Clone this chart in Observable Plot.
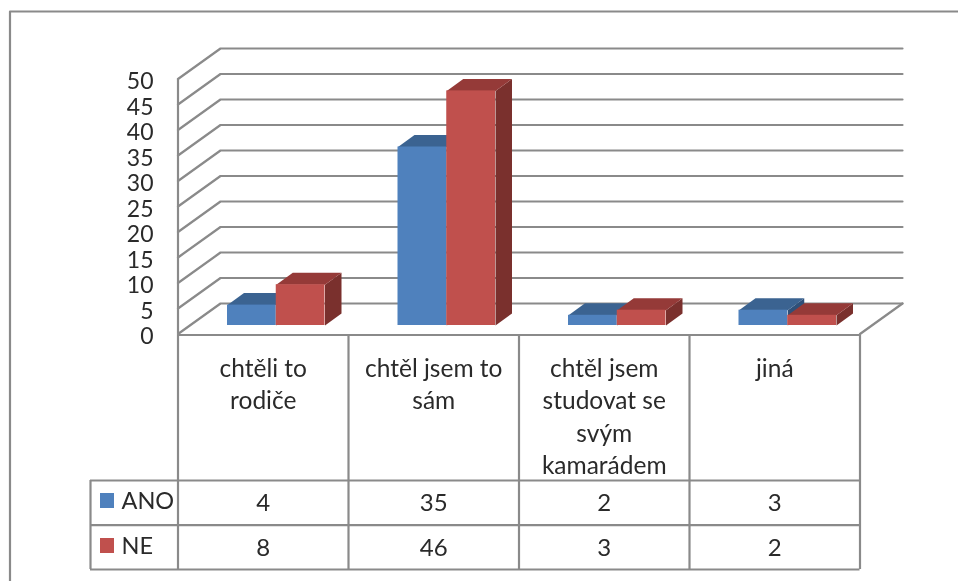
<!DOCTYPE html>
<html><head><meta charset="utf-8">
<script src="https://cdn.jsdelivr.net/npm/d3@7"></script>
<script src="https://cdn.jsdelivr.net/npm/@observablehq/plot@0.6"></script>
<style>html,body{margin:0;padding:0;background:#fff}svg{display:block;filter:blur(.5px)}</style>
</head><body><script>
const categories = ["chtěli to\nrodiče","chtěl jsem to\nsám","chtěl jsem\nstudovat se\nsvým\nkamarádem","jiná"];
const seriesNames = ["ANO","NE"];
const ano = [4,35,2,3];
const ne = [8,46,3,2];
const yTicks = [0,5,10,15,20,25,30,35,40,45,50];
const colors = {ANO:{front:"#4f81bd",top:"#3b6391",side:"#2f5079"},NE:{front:"#c0504d",top:"#953a38",side:"#7a302d"}};
const line = "#8a8a8a";

const W=958,H=581,L=177.5,R=859.5,T=78.5,B=333.5;
const xu=(R-L)/4, yu=(B-T)/50;
// chart-space offsets: horizontal pixels -> category units, vertical pixels -> value units
const X=p=>(p-L)/xu, Y=p=>(B-p)/yu, DX=p=>p/xu, DY=p=>p/yu;

const wallX=DX(42.5), wallY=DY(30.5);
const grid=yTicks.flatMap(v=>[[0,v],[wallX,v+wallY],[4+wallX,v+wallY]].map(([x,y])=>({x,y,z:v})));
const floorEdge=[{x:4,y:0},{x:4+wallX,y:wallY}];

const barW=DX(48.75), barStart=DX(49.5), floor=DY(8.5), dX=DX(16.5), dY=DY(12);
const bars=[];
[ano,ne].forEach((vals,s)=>vals.forEach((v,i)=>{
  bars.push({s:seriesNames[s],i,v,x1:i+barStart+s*barW,x2:i+barStart+(s+1)*barW,y1:floor,y2:floor+v});
}));
const face=(kind)=>bars.flatMap((b,n)=>(kind==="top"
  ?[[b.x1,b.y2],[b.x2,b.y2],[b.x2+dX,b.y2+dY],[b.x1+dX,b.y2+dY]]
  :[[b.x2,b.y1],[b.x2,b.y2],[b.x2+dX,b.y2+dY],[b.x2+dX,b.y1+dY]]
).map(([x,y])=>({x,y,z:n,s:b.s})));

const barMarks=seriesNames.flatMap(s=>{
  const f=d=>d.s===s, c=colors[s];
  return [
    Plot.line(face("side").filter(f),{x:"x",y:"y",z:"z",fill:c.side,stroke:"none",curve:"linear"}),
    Plot.line(face("top").filter(f),{x:"x",y:"y",z:"z",fill:c.top,stroke:"none",curve:"linear"}),
    Plot.rect(bars.filter(f),{x1:"x1",x2:"x2",y1:"y1",y2:"y2",fill:c.front})
  ];
});

const tableLeft=X(90), rowY=[Y(334.5),Y(480),Y(524.7),Y(569)];
const catEdges=[0,1,2,3,4];
const valueRows=[{name:"ANO",vals:ano,py:502.5,sw:[493,508],ty:500.5},{name:"NE",vals:ne,py:547.5,sw:[538,553],ty:545.5}];
const font="Lato";
const ink="#2a2a2a";

const chart=Plot.plot({
  width:W,height:H,marginLeft:L,marginRight:W-R,marginTop:T,marginBottom:H-B,
  style:{fontFamily:font,background:"#fff",overflow:"visible"},
  x:{domain:[0,4],axis:null},
  y:{domain:[0,50],label:null},
  marks:[
    // outer frame
    Plot.line([{x:X(9.5),y:Y(581)},{x:X(9.5),y:Y(11)},{x:X(958),y:Y(11)}],{x:"x",y:"y",stroke:line,strokeWidth:2.2}),
    // walls and floor
    Plot.line(grid,{x:"x",y:"y",z:"z",stroke:line,strokeWidth:2.2,curve:"linear"}),
    Plot.line(floorEdge,{x:"x",y:"y",stroke:line,strokeWidth:2.2}),
    Plot.ruleX([0],{y1:0,y2:50,stroke:line,strokeWidth:2.2}),
    Plot.axisY({ticks:yTicks,tickSize:0,tickPadding:24.5,dy:3,fontSize:23,fill:ink,label:null}),
    ...barMarks,
    // data table grid
    Plot.ruleY([rowY[0]],{x1:0,x2:4,stroke:line,strokeWidth:2.2}),
    Plot.ruleY(rowY.slice(1),{x1:tableLeft,x2:4,stroke:line,strokeWidth:2.2}),
    Plot.ruleX(catEdges,{y1:rowY[0],y2:rowY[3],stroke:line,strokeWidth:2.2}),
    Plot.ruleX([tableLeft],{y1:rowY[1],y2:rowY[3],stroke:line,strokeWidth:2.2}),
    // category labels
    Plot.text(categories,{x:(d,i)=>i+.5,y:Y(353),text:d=>d,lineAnchor:"top",lineHeight:1.33,fontSize:24.5,fill:ink}),
    // table rows
    ...valueRows.flatMap(r=>[
      Plot.rect([r.name],{x1:X(100),x2:X(114),y1:Y(r.sw[1]),y2:Y(r.sw[0]),fill:colors[r.name].front}),
      Plot.text([r.name],{x:X(121),y:Y(r.ty),text:d=>d,textAnchor:"start",fontSize:23.5,fill:ink}),
      Plot.text(r.vals,{x:(d,i)=>i+.5,y:Y(r.py),text:d=>String(d),fontSize:24,fill:ink})
    ])
  ]
});
document.body.appendChild(chart);
</script></body></html>
